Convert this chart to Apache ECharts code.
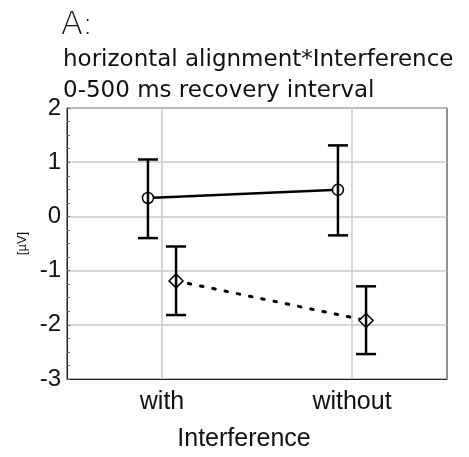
<!DOCTYPE html>
<html><head><meta charset="utf-8">
<script src="https://cdn.jsdelivr.net/npm/echarts@6/dist/echarts.min.js"></script>
<style>html,body{margin:0;padding:0;background:#fff}#c{width:469px;height:457px}</style>
</head><body><div id="c"></div>
<script>
var categories = ['with', 'without'];
var yTicks = [-3, -2, -1, 0, 1, 2];
// series: horizontal alignment levels
var solidMean = [0.34, 0.49];
var solidLow = [-0.40, -0.35];
var solidHigh = [1.05, 1.31];
var dottedMean = [-1.19, -1.92];
var dottedLow = [-1.82, -2.54];
var dottedHigh = [-0.555, -1.29];

var OFF = 0.074; // horizontal dodge (in category units)
function pts(mean, dx) { return mean.map(function (v, i) { return [i + 0.5 + dx, v]; }); }
function bars(lo, hi, dx) { return lo.map(function (v, i) { return [i + 0.5 + dx, v, hi[i]]; }); }

var chart = echarts.init(document.getElementById('c'), null, {renderer: 'canvas'});
function errRender(params, api) {
  var x = api.value(0);
  var p1 = api.coord([x, api.value(1)]);
  var p2 = api.coord([x, api.value(2)]);
  var hw = 10;
  var st = {stroke: '#000', lineWidth: 2.5};
  return {type: 'group', children: [
    {type: 'line', shape: {x1: p1[0], y1: p1[1], x2: p2[0], y2: p2[1]}, style: st},
    {type: 'line', shape: {x1: p1[0] - hw, y1: p1[1], x2: p1[0] + hw, y2: p1[1]}, style: st},
    {type: 'line', shape: {x1: p2[0] - hw, y1: p2[1], x2: p2[0] + hw, y2: p2[1]}, style: st}
  ]};
}
chart.setOption({
  animation: false,
  backgroundColor: '#fff',
  title: [
    {text: 'A:', left: 56, top: 5, textStyle: {fontFamily: 'DejaVu Sans', fontWeight: 200, fontSize: 32, color: '#111'}},
    {text: 'horizontal alignment*Interference\n0-500 ms recovery interval', left: 58, top: 40,
     textStyle: {fontFamily: 'DejaVu Sans', fontWeight: 'normal', fontSize: 23, lineHeight: 31, color: '#111'}}
  ],
  grid: {left: 67, top: 108, right: 22, bottom: 75, show: true, borderColor: '#222', borderWidth: 1},
  xAxis: [
    {type: 'category', data: categories, boundaryGap: true,
     axisLine: {onZero: false, lineStyle: {color: '#222'}}, axisTick: {show: false},
     axisLabel: {fontFamily: 'Liberation Sans', fontSize: 25, color: '#111', margin: 11},
     splitLine: {show: true, alignWithLabel: true, lineStyle: {color: '#c8c8c8', width: 1.5}},
     name: 'Interference', nameLocation: 'middle', nameGap: 48,
     nameTextStyle: {fontFamily: 'Liberation Sans', fontSize: 25, color: '#111', padding: [0, 26, 0, 0]}},
    {type: 'value', min: 0, max: 2, show: false}
  ],
  yAxis: {
    type: 'value', min: yTicks[0], max: yTicks[yTicks.length - 1], interval: 1,
    axisLine: {show: true, lineStyle: {color: '#222'}},
    axisTick: {show: true, inside: true, length: 3, lineStyle: {color: '#666'}},
    minorTick: {show: true, splitNumber: 4, length: 3, lineStyle: {color: '#666'}},
    axisLabel: {fontFamily: 'Liberation Sans', fontSize: 24, color: '#111', margin: 6},
    splitLine: {show: true, lineStyle: {color: '#c8c8c8', width: 1.5}},
    name: '[µV]', nameLocation: 'middle', nameGap: 38, nameRotate: 90,
    nameTextStyle: {fontFamily: 'Liberation Sans', fontSize: 13, color: '#111'}
  },
  series: [
    {type: 'line', xAxisIndex: 1, data: pts(solidMean, -OFF), symbol: 'circle', symbolSize: 11,
     lineStyle: {color: '#000', width: 2.5}, itemStyle: {color: '#fff', borderColor: '#000', borderWidth: 1.5}, z: 3},
    {type: 'line', xAxisIndex: 1, data: pts(dottedMean, OFF), symbol: 'diamond', symbolSize: 14,
     lineStyle: {color: '#000', width: 3, type: [2.5, 10], cap: 'round'}, itemStyle: {color: '#fff', borderColor: '#000', borderWidth: 1.5}, z: 3},
    {type: 'custom', xAxisIndex: 1, data: bars(solidLow, solidHigh, -OFF), renderItem: errRender, z: 4},
    {type: 'custom', xAxisIndex: 1, data: bars(dottedLow, dottedHigh, OFF), renderItem: errRender, z: 4}
  ]
});
</script></body></html>
